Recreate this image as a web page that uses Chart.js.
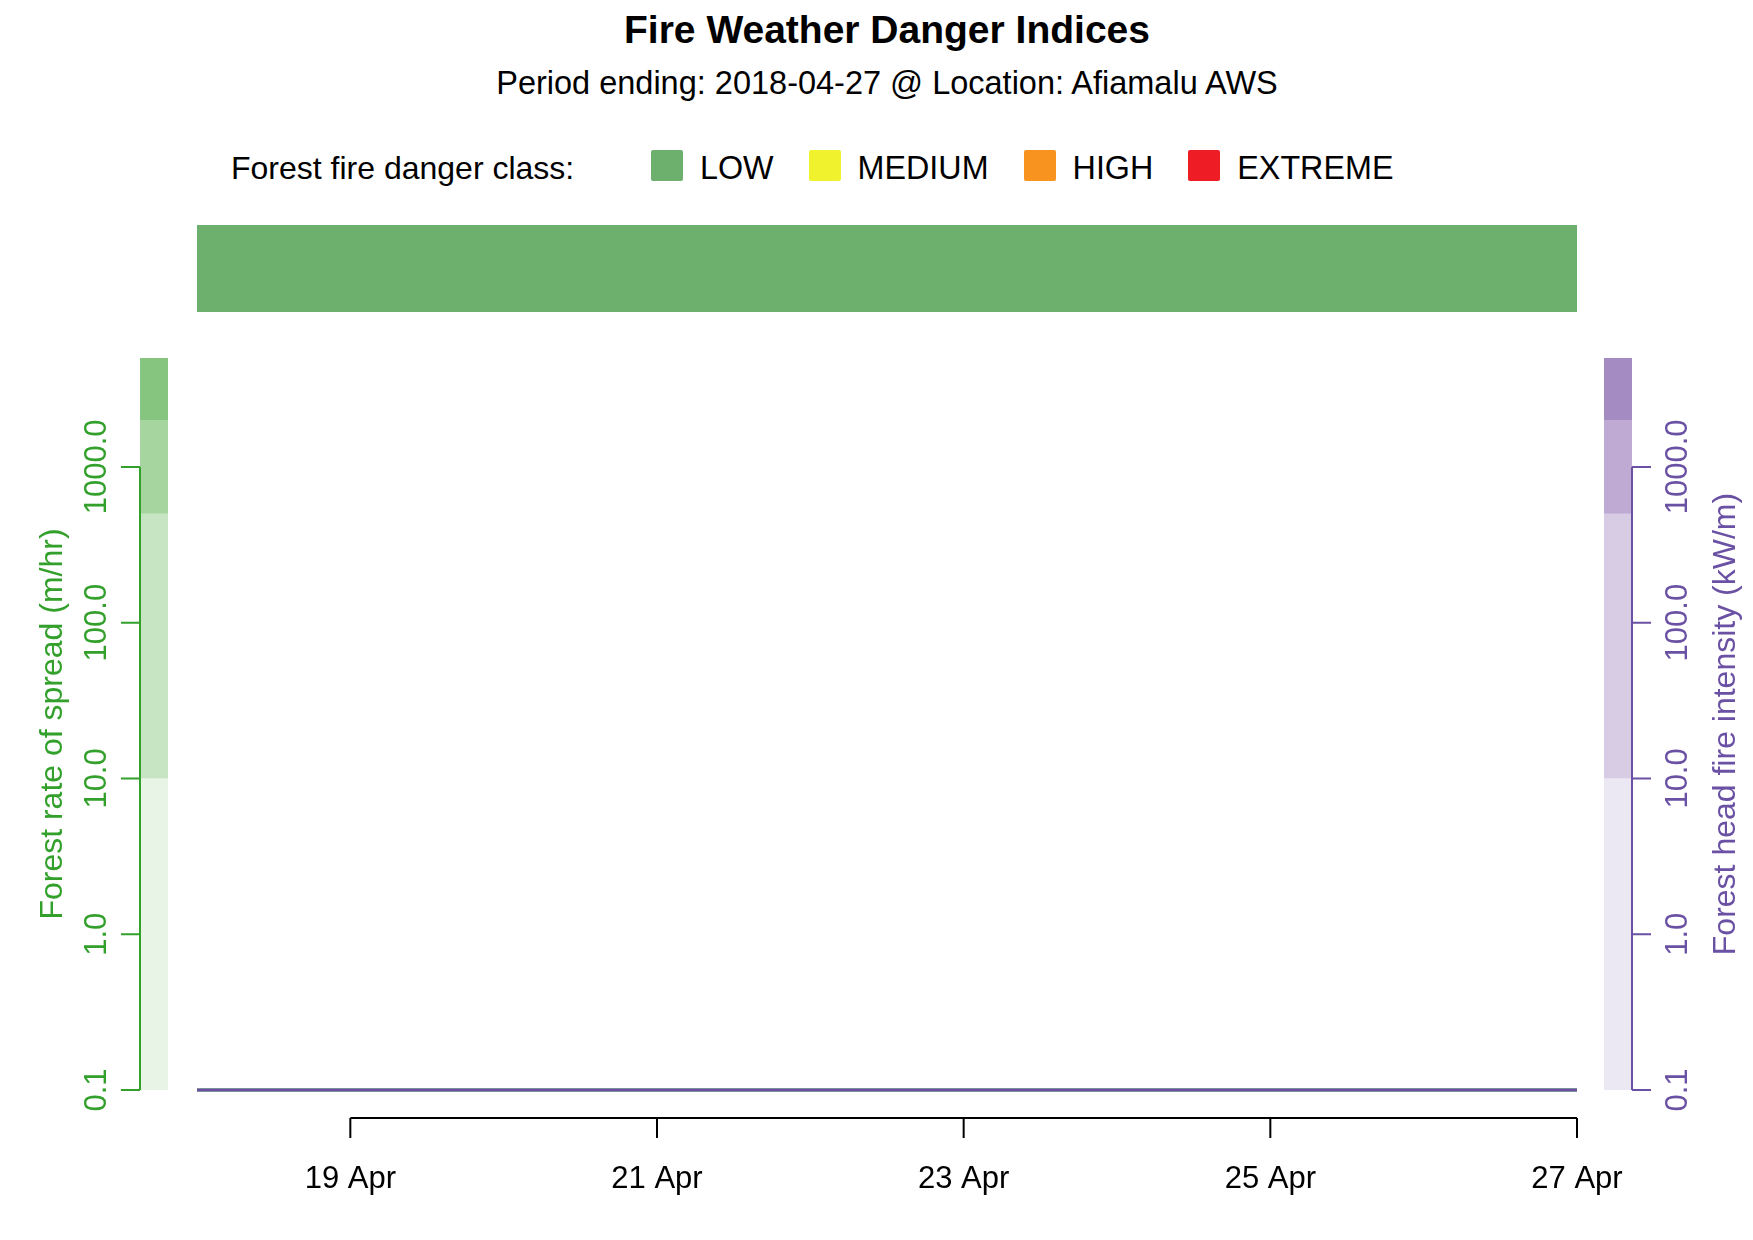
<!DOCTYPE html>
<html>
<head>
<meta charset="utf-8">
<title>Fire Weather Danger Indices</title>
<script src="https://cdn.jsdelivr.net/npm/chart.js@4.4.1/dist/chart.umd.min.js"></script>
<style>
  html, body { margin: 0; padding: 0; background: #fff; overflow: hidden; }
  body { font-family: "Liberation Sans", Arial, sans-serif; color: #000; }
  #page { position: relative; width: 1753px; height: 1240px; }
  .centred { position: absolute; left: 197px; width: 1380px; text-align: center; white-space: nowrap; }
  #chart-title { top: 8px; font-size: 39px; font-weight: bold; line-height: 44px; }
  #chart-subtitle { top: 64px; font-size: 32.5px; line-height: 38px; }
  #legend-title { position: absolute; left: 231px; top: 149px; font-size: 32px; line-height: 38px; }
  #chart-legend { position: absolute; left: 651px; top: 149px; display: flex; margin: 0; padding: 0; list-style: none; }
  .chart-legend-item { display: flex; align-items: center; margin-right: 35px; height: 38px; }
  .chart-legend-item-box { width: 32px; height: 31px; border-radius: 2px; margin-right: 17px; margin-top: -5px; }
  .chart-legend-item-label { font-size: 32.3px; line-height: 38px; margin: 0; }
  #bandChart { position: absolute; left: 197px; top: 225px; }
  #mainChart { position: absolute; left: 0; top: 0; }
</style>
</head>
<body>
<div id="page">
  <div id="chart-title" class="centred">Fire Weather Danger Indices</div>
  <div id="chart-subtitle" class="centred">Period ending: 2018-04-27 @ Location: Afiamalu AWS</div>
  <div id="legend-title">Forest fire danger class:</div>
  <ul id="chart-legend"></ul>
  <canvas id="bandChart" width="1380" height="87"></canvas>
  <canvas id="mainChart" width="1753" height="1240"></canvas>
</div>
<script>
// day of month, April 2018
const days = [18, 19, 20, 21, 22, 23, 24, 25, 26, 27];
const rateOfSpread = [0.1, 0.1, 0.1, 0.1, 0.1, 0.1, 0.1, 0.1, 0.1, 0.1];   // m/hr
const headIntensity = [0.1, 0.1, 0.1, 0.1, 0.1, 0.1, 0.1, 0.1, 0.1, 0.1];  // kW/m
// danger class for each day starting at days[i]
const dangerByDay = ["LOW", "LOW", "LOW", "LOW", "LOW", "LOW", "LOW", "LOW", "LOW"];

const classNames = ["LOW", "MEDIUM", "HIGH", "EXTREME"];
const classColors = ["#6daf6d", "#eff22c", "#f7931e", "#ee1c25"];

const yTicks = [0.1, 1, 10, 100, 1000];
const xTicks = [19, 21, 23, 25, 27];
const monthName = "Apr";

const rosBands = [0.1, 10, 500, 2000, 5000];
const rosBandColors = ["#e8f4e5", "#c8e5c3", "#a7d5a0", "#86c57f"];
const fhiBands = [0.1, 10, 500, 2000, 5000];
const fhiBandColors = ["#ece8f3", "#d8cbe4", "#bfaad3", "#a48bc1"];

const rosColor = "#33a02c";
const fhiColor = "#6a51a3";
const fontFamily = "'Liberation Sans', Arial, sans-serif";
Chart.defaults.font.family = fontFamily;

/*********************************
 LEGEND
**********************************/
const legend = document.getElementById("chart-legend");
classNames.forEach((name, i) => {
  const li = document.createElement("li");
  li.classList.add("chart-legend-item");
  const box = document.createElement("div");
  box.classList.add("chart-legend-item-box");
  box.style.background = classColors[i];
  const label = document.createElement("p");
  label.classList.add("chart-legend-item-label");
  label.appendChild(document.createTextNode(name));
  li.appendChild(box);
  li.appendChild(label);
  legend.appendChild(li);
});

/*********************************
 DANGER CLASS BAND
**********************************/
new Chart("bandChart", {
  type: "bar",
  data: {
    labels: ["class"],
    datasets: [{
      label: "danger class",
      data: dangerByDay.map((c, i) => ({ y: "class", x: [days[i], days[i + 1]] })),
      backgroundColor: dangerByDay.map(c => classColors[classNames.indexOf(c)]),
      borderWidth: 0,
      borderSkipped: false,
      barPercentage: 1,
      categoryPercentage: 1,
    }]
  },
  options: {
    indexAxis: "y",
    responsive: false,
    animation: false,
    events: [],
    layout: { padding: 0 },
    plugins: { legend: { display: false }, tooltip: { enabled: false } },
    scales: {
      x: { type: "linear", min: days[0], max: days[days.length - 1], display: false },
      y: { type: "category", display: false }
    }
  }
});

/*********************************
 AXES PLUGIN
**********************************/
function fmtTick(v) {
  return v.toFixed(1);
}

function vText(ctx, text, x, y) {
  ctx.save();
  ctx.translate(x, y);
  ctx.rotate(-Math.PI / 2);
  ctx.textAlign = "center";
  ctx.textBaseline = "middle";
  ctx.fillText(text, 0, 0);
  ctx.restore();
}

const bandsPlugin = {
  id: "bands",
  beforeDatasetsDraw(chart) {
    const ctx = chart.ctx;
    const area = chart.chartArea;
    const ros = chart.scales.yRos;
    const fhi = chart.scales.yFhi;
    ctx.save();
    for (let i = 0; i < rosBandColors.length; i++) {
      const y0 = ros.getPixelForValue(rosBands[i]);
      const y1 = ros.getPixelForValue(rosBands[i + 1]);
      ctx.fillStyle = rosBandColors[i];
      ctx.fillRect(area.left - 57, y1, 28, y0 - y1);
    }
    for (let i = 0; i < fhiBandColors.length; i++) {
      const y0 = fhi.getPixelForValue(fhiBands[i]);
      const y1 = fhi.getPixelForValue(fhiBands[i + 1]);
      ctx.fillStyle = fhiBandColors[i];
      ctx.fillRect(area.right + 27, y1, 28, y0 - y1);
    }
    ctx.restore();
  }
};

const axesPlugin = {
  id: "axes",
  afterDraw(chart) {
    const ctx = chart.ctx;
    const area = chart.chartArea;
    const x = chart.scales.x;
    const ros = chart.scales.yRos;
    const fhi = chart.scales.yFhi;
    const midY = (area.top + area.bottom) / 2;
    ctx.save();
    ctx.lineWidth = 2;

    // left axis: rate of spread
    const lx = area.left - 57;
    ctx.strokeStyle = rosColor;
    ctx.fillStyle = rosColor;
    ctx.beginPath();
    ctx.moveTo(lx, ros.getPixelForValue(yTicks[0]));
    ctx.lineTo(lx, ros.getPixelForValue(yTicks[yTicks.length - 1]));
    yTicks.forEach(t => {
      const py = ros.getPixelForValue(t);
      ctx.moveTo(lx, py);
      ctx.lineTo(lx - 19, py);
    });
    ctx.stroke();
    ctx.font = "31px " + fontFamily;
    yTicks.forEach(t => vText(ctx, fmtTick(t), lx - 43, ros.getPixelForValue(t)));
    ctx.font = "32px " + fontFamily;
    vText(ctx, "Forest rate of spread (m/hr)", lx - 87, midY);

    // right axis: head fire intensity
    const rx = area.right + 55;
    ctx.strokeStyle = fhiColor;
    ctx.fillStyle = fhiColor;
    ctx.beginPath();
    ctx.moveTo(rx, fhi.getPixelForValue(yTicks[0]));
    ctx.lineTo(rx, fhi.getPixelForValue(yTicks[yTicks.length - 1]));
    yTicks.forEach(t => {
      const py = fhi.getPixelForValue(t);
      ctx.moveTo(rx, py);
      ctx.lineTo(rx + 19, py);
    });
    ctx.stroke();
    ctx.font = "31px " + fontFamily;
    yTicks.forEach(t => vText(ctx, fmtTick(t), rx + 46, fhi.getPixelForValue(t)));
    ctx.font = "32px " + fontFamily;
    vText(ctx, "Forest head fire intensity (kW/m)", rx + 94, midY);

    // bottom axis: dates
    const by = area.bottom + 28;
    ctx.strokeStyle = "#000";
    ctx.fillStyle = "#000";
    ctx.beginPath();
    ctx.moveTo(x.getPixelForValue(xTicks[0]), by);
    ctx.lineTo(x.getPixelForValue(xTicks[xTicks.length - 1]), by);
    xTicks.forEach(t => {
      const px = x.getPixelForValue(t);
      ctx.moveTo(px, by);
      ctx.lineTo(px, by + 20);
    });
    ctx.stroke();
    ctx.font = "31px " + fontFamily;
    ctx.textAlign = "center";
    ctx.textBaseline = "middle";
    xTicks.forEach(t => ctx.fillText(t + " " + monthName, x.getPixelForValue(t), by + 61));
    ctx.restore();
  }
};

/*********************************
 MAIN CHART
**********************************/
new Chart("mainChart", {
  type: "line",
  data: {
    datasets: [
      {
        label: "Forest rate of spread (m/hr)",
        data: days.map((d, i) => ({ x: d, y: rateOfSpread[i] })),
        yAxisID: "yRos",
        borderColor: rosColor,
        borderWidth: 3,
        pointRadius: 0,
        clip: false,
        order: 2,
      },
      {
        label: "Forest head fire intensity (kW/m)",
        data: days.map((d, i) => ({ x: d, y: headIntensity[i] })),
        yAxisID: "yFhi",
        borderColor: fhiColor,
        borderWidth: 3,
        pointRadius: 0,
        clip: false,
        order: 1,
      }
    ]
  },
  options: {
    responsive: false,
    animation: false,
    events: [],
    layout: { padding: { left: 197, right: 176, top: 358, bottom: 150 } },
    plugins: { legend: { display: false }, tooltip: { enabled: false } },
    scales: {
      x: { type: "linear", min: days[0], max: days[days.length - 1], display: false },
      yRos: { type: "logarithmic", position: "left", min: rosBands[0], max: rosBands[rosBands.length - 1], display: false },
      yFhi: { type: "logarithmic", position: "right", min: fhiBands[0], max: fhiBands[fhiBands.length - 1], display: false }
    }
  },
  plugins: [bandsPlugin, axesPlugin]
});
</script>
</body>
</html>
